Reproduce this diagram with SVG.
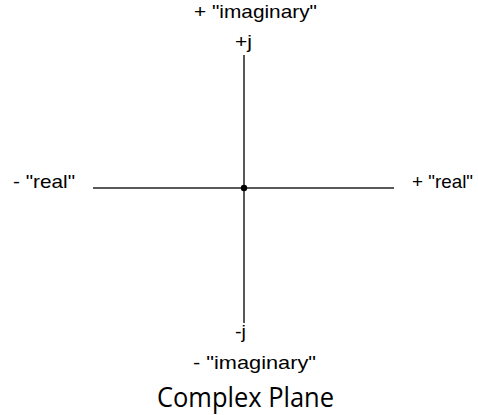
<svg xmlns="http://www.w3.org/2000/svg" width="478" height="415" viewBox="0 0 478 415">
<style>
.lbl{font-family:"Liberation Sans",Arial,sans-serif;font-size:19px;fill:#000}
.axis{stroke:#222;stroke-width:1.5;fill:none}
.title{font-family:"Open Sans","Noto Sans",sans-serif;font-size:28px;fill:#000}
</style>
<rect width="478" height="415" fill="#fff"/>
<g id="connectors">
<line class="axis" x1="244" y1="55" x2="244" y2="323"/>
<line class="axis" x1="93" y1="188" x2="394" y2="188"/>
</g>
<g id="origin"><circle cx="244" cy="188" r="3.2" fill="#000"/></g>
<g id="pos-imag">
<text class="lbl" x="194" y="18" textLength="123" lengthAdjust="spacingAndGlyphs">+ "imaginary"</text>
<text class="lbl" x="235" y="48" textLength="17" lengthAdjust="spacingAndGlyphs">+j</text>
</g>
<g id="neg-real"><text class="lbl" x="13" y="188" textLength="62" lengthAdjust="spacingAndGlyphs">- "real"</text></g>
<g id="pos-real"><text class="lbl" x="412" y="188" textLength="61" lengthAdjust="spacingAndGlyphs">+ "real"</text></g>
<g id="neg-imag">
<text class="lbl" x="235" y="338" textLength="11" lengthAdjust="spacingAndGlyphs">-j</text>
<text class="lbl" x="193" y="369" textLength="123" lengthAdjust="spacingAndGlyphs">- "imaginary"</text>
</g>
<g id="title"><text class="title" x="157" y="407" textLength="177" lengthAdjust="spacingAndGlyphs">Complex Plane</text></g>
</svg>
